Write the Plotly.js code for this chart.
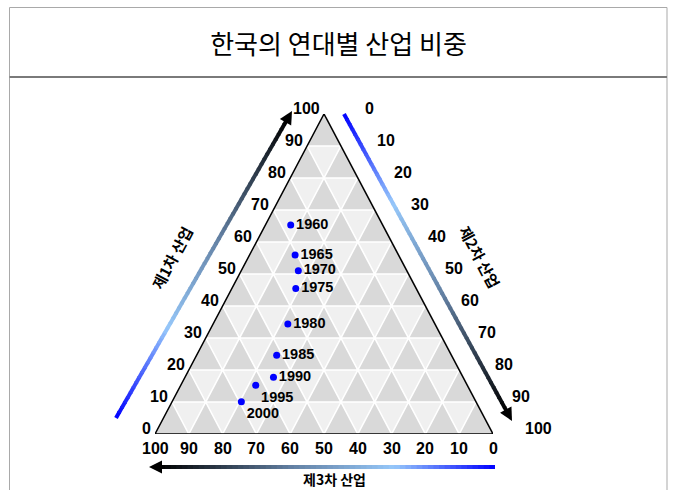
<!DOCTYPE html>
<html><head><meta charset="utf-8">
<script src="https://cdn.plot.ly/plotly-3.0.1.min.js"></script>
<style>html,body{margin:0;padding:0;background:#fff}#chart{width:673px;height:490px}</style>
</head><body><div id="chart"></div>
<script>
// ---- data ----
const years = ['1960','1965','1970','1975','1980','1985','1990','1995','2000'];
const primary = [65.3, 55.9, 51.0, 45.5, 34.4, 24.6, 17.7, 15.2, 10.1];   // 제1차 산업 (top vertex)
const secondary = [7.5, 13.5, 16.9, 18.9, 22.1, 23.7, 26.2, 22.2, 20.5];  // 제2차 산업 (bottom-right vertex)
const tertiary = [27.2, 30.6, 32.1, 35.6, 43.5, 51.7, 56.1, 62.6, 69.4];  // 제3차 산업 (bottom-left vertex)
const tickValues = [0,10,20,30,40,50,60,70,80,90,100];
const axisTitles = ['제1차 산업','제2차 산업','제3차 산업'];
const chartTitle = '한국의 연대별 산업 비중';

// ---- geometry ----
const W = 673, H = 490;
const TRI = {left:155, right:493, top:114, bottom:434};
const px = x => x / W, py = y => 1 - y / H;
// ternary -> plane (a top, b bottom-left, c bottom-right)
function proj(a, b, c){ const s = a + b + c; const A = a / s * 100, C = c / s * 100; return [C + A / 2, A]; }

const pts = years.map((_, i) => proj(primary[i], tertiary[i], secondary[i]));
const labelPos = years.map(y => (y === '1995' || y === '2000') ? 'bottom right' : 'middle right');

const shapes = [];
// shadow
const sx = 2.5 * 100 / (TRI.right - TRI.left), sy = 2.5 * 100 / (TRI.bottom - TRI.top);
shapes.push({type:'path', xref:'x', yref:'y', layer:'below', path:`M ${sx},${-sy} L ${100+sx},${-sy} L ${50+sx},${100-sy} Z`, fillcolor:'#cfcfcf', line:{width:0}});
// light background
shapes.push({type:'path', xref:'x', yref:'y', layer:'below', path:'M 0,0 L 100,0 L 50,100 Z', fillcolor:'#f0f0f0', line:{width:0}});
// dark upward cells
const step = 10, n = 100 / step;
let up = '';
for (let r = 0; r < n; r++) {
  for (let j = 0; j < n - r; j++) {
    const x0 = r * step / 2 + j * step, y0 = r * step;
    up += `M ${x0},${y0} L ${x0 + step},${y0} L ${x0 + step / 2},${y0 + step} Z `;
  }
}
shapes.push({type:'path', xref:'x', yref:'y', layer:'below', path:up, fillcolor:'#d9d9d9', line:{width:0}});
// white grid lines
let grid = '';
for (let k = 1; k < n; k++) {
  const v = k * step;
  let p0 = proj(v, 100 - v, 0), p1 = proj(v, 0, 100 - v);
  grid += `M ${p0[0]},${p0[1]} L ${p1[0]},${p1[1]} `;
  p0 = proj(0, 100 - v, v); p1 = proj(100 - v, 0, v);
  grid += `M ${p0[0]},${p0[1]} L ${p1[0]},${p1[1]} `;
  p0 = proj(0, v, 100 - v); p1 = proj(100 - v, v, 0);
  grid += `M ${p0[0]},${p0[1]} L ${p1[0]},${p1[1]} `;
}
shapes.push({type:'path', xref:'x', yref:'y', layer:'below', path:grid, line:{color:'#ffffff', width:1.6}});
// outline
shapes.push({type:'path', xref:'x', yref:'y', layer:'below', path:'M 0,0 L 100,0 L 50,100 Z', line:{color:'#000000', width:1.5}});

// frame
shapes.push({type:'rect', xref:'paper', yref:'paper', x0:px(9.5), x1:px(667), y0:py(7.5), y1:py(520), line:{color:'#a9a9a9', width:1}, fillcolor:'rgba(0,0,0,0)'});
shapes.push({type:'line', xref:'paper', yref:'paper', x0:px(9.5), x1:px(667), y0:py(77), y1:py(77), line:{color:'#7a7a7a', width:2}});

// gradient arrows
const stops = [[0,[0,0,255]],[0.3,[150,200,250]],[0.6,[100,130,165]],[1,[0,0,0]]];
function colAt(t){
  for (let i = 0; i < stops.length - 1; i++) {
    const [t0,c0] = stops[i], [t1,c1] = stops[i+1];
    if (t <= t1) { const u = (t - t0) / (t1 - t0); return `rgb(${c0.map((v,k)=>Math.round(v + (c1[k]-v)*u)).join(',')})`; }
  }
  return 'rgb(0,0,0)';
}
function gradArrow(x0, y0, x1, y1, head){
  const L = Math.hypot(x1 - x0, y1 - y0), ux = (x1 - x0) / L, uy = (y1 - y0) / L;
  const hl = head ? 13 : 0, N = 60;
  const ex = x1 - ux * hl * 0.8, ey = y1 - uy * hl * 0.8;
  for (let i = 0; i < N; i++) {
    const t0 = i / N, t1 = (i + 1) / N;
    shapes.push({type:'line', xref:'paper', yref:'paper',
      x0:px(x0 + (ex - x0) * t0), y0:py(y0 + (ey - y0) * t0),
      x1:px(x0 + (ex - x0) * Math.min(1, t1 + 0.004)), y1:py(y0 + (ey - y0) * Math.min(1, t1 + 0.004)),
      line:{color:colAt((t0 + t1) / 2), width:4}});
  }
  if (head) {
    const bx = x1 - ux * hl, by = y1 - uy * hl, nx = -uy, ny = ux, hw = 6.5;
    shapes.push({type:'path', xref:'paper', yref:'paper',
      path:`M ${px(x1)},${py(y1)} L ${px(bx + nx*hw)},${py(by + ny*hw)} L ${px(bx - nx*hw)},${py(by - ny*hw)} Z`,
      fillcolor:'#000000', line:{width:0}});
  }
}
gradArrow(116, 418, 292, 111, true);   // 제1차 산업
gradArrow(344, 114, 512, 421, true);   // 제2차 산업
gradArrow(495, 467, 149, 467, true);   // 제3차 산업

// tick labels
const tickFont = {family:'Liberation Sans, Arial, sans-serif', size:16, color:'#000'};
const annotations = [];
tickValues.forEach(v => {
  let p = proj(v, 100 - v, 0);
  annotations.push({x:p[0], y:p[1], xref:'x', yref:'y', text:`<b>${v}</b>`, showarrow:false, xanchor:'right', yanchor:'middle', xshift:-2, yshift:6, font:tickFont});
  p = proj(100 - v, 0, v);
  annotations.push({x:p[0], y:p[1], xref:'x', yref:'y', text:`<b>${v}</b>`, showarrow:false, xanchor:'center', yanchor:'middle', xshift:45, yshift:6, font:tickFont});
  p = proj(0, v, 100 - v);
  annotations.push({x:p[0], y:p[1], xref:'x', yref:'y', text:`<b>${v}</b>`, showarrow:false, xanchor:'center', yanchor:'middle', yshift:-14, font:tickFont});
});
const titleFont = {family:'Noto Sans CJK KR, sans-serif', size:15, color:'#000'};
annotations.push({x:px(171), y:py(258), xref:'paper', yref:'paper', text:`<b>${axisTitles[0]}</b>`, showarrow:false, textangle:-62, xanchor:'center', yanchor:'middle', font:titleFont});
annotations.push({x:px(480), y:py(256), xref:'paper', yref:'paper', text:`<b>${axisTitles[1]}</b>`, showarrow:false, textangle:62, xanchor:'center', yanchor:'middle', font:titleFont});
annotations.push({x:px(334), y:py(479), xref:'paper', yref:'paper', text:`<b>${axisTitles[2]}</b>`, showarrow:false, xanchor:'center', yanchor:'middle', borderpad:0, font:{family:'Noto Sans CJK KR, sans-serif', size:14, color:'#000'}});

const trace = {
  type:'scatter', mode:'markers+text',
  x: pts.map(p => p[0]), y: pts.map(p => p[1]),
  text: years, texttemplate:'<b>%{text}</b>', textposition: labelPos,
  textfont:{family:'Liberation Sans, Arial, sans-serif', size:14.5, color:'#000'},
  marker:{color:'#0000ff', size:7},
  cliponaxis:false, hoverinfo:'none', showlegend:false
};

const layout = {
  width:W, height:H, margin:{l:0, r:0, t:0, b:0},
  paper_bgcolor:'#ffffff', plot_bgcolor:'rgba(0,0,0,0)',
  title:{text:chartTitle, x:px(338.5), y:py(45), xref:'paper', yref:'paper', xanchor:'center', yanchor:'middle',
    font:{family:'Noto Sans CJK KR, sans-serif', size:26, color:'#000'}},
  xaxis:{visible:false, range:[0,100], domain:[px(TRI.left), px(TRI.right)], fixedrange:true},
  yaxis:{visible:false, range:[0,100], domain:[py(TRI.bottom), py(TRI.top)], fixedrange:true},
  shapes, annotations, showlegend:false
};
Plotly.newPlot('chart', [trace], layout, {displayModeBar:false, staticPlot:true});
</script></body></html>
